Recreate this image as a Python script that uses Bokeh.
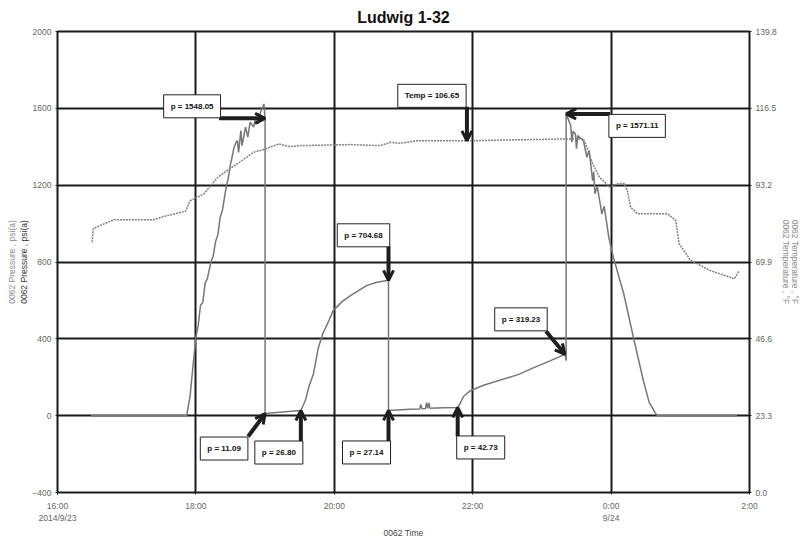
from bokeh.plotting import figure
from bokeh.models import (Range1d, LinearAxis, FixedTicker, Label, Arrow, OpenHead,
                          PrintfTickFormatter)
from bokeh.embed import file_html
from bokeh.resources import INLINE

# ---------------- data ----------------
title_text = "Ludwig 1-32"
x_tick_hours = [0, 2, 4, 6, 8, 10]
x_tick_labels = ["16:00\n2014/9/23", "18:00", "20:00", "22:00", "0:00\n9/24", "2:00"]
p_ticks = [-400, 0, 400, 800, 1200, 1600, 2000]
t_ticks = [0.0, 23.3, 46.6, 69.9, 93.2, 116.5, 139.8]

pressure_time = ["16:29", "17:52", "17:55", "17:57", "18:00", "18:02", "18:04", "18:06", "18:08",
                 "18:10", "18:13", "18:15", "18:17", "18:19", "18:21", "18:23", "18:26", "18:28",
                 "18:30", "18:31", "18:33", "18:35", "18:36", "18:37", "18:39", "18:40", "18:43",
                 "18:45", "18:47", "18:50", "18:52", "18:54", "18:56", "18:59", "19:00",
                 "19:00", "19:10", "19:20", "19:31", "19:35", "19:38", "19:42", "19:46", "19:50",
                 "19:55", "19:59", "20:07", "20:14", "20:28", "20:37", "20:47",
                 "20:47", "20:55", "21:05", "21:14", "21:15", "21:16", "21:19", "21:20", "21:21",
                 "21:22", "21:23", "21:35", "21:47",
                 "21:49", "21:52", "21:58", "22:10", "22:22", "22:40", "22:53", "23:07", "23:20",
                 "23:21", "23:21",
                 "23:25", "23:26", "23:27", "23:29", "23:30", "23:31", "23:36", "23:39", "23:41",
                 "23:44", "23:45", "23:46", "23:48", "23:52", "23:54", "23:58", "0:02", "0:11",
                 "0:20", "0:28", "0:33", "0:35", "0:38", "0:40", "1:49"]
pressure_psi = [0, 0, 104, 230, 408, 470, 575, 590, 690,
                715, 800, 830, 905, 940, 1030, 1070, 1180, 1235,
                1310, 1335, 1395, 1425, 1432, 1371, 1484, 1406, 1502,
                1450, 1528, 1502, 1554, 1519, 1580, 1623, 1548.05,
                11.09, 17, 22, 26.80, 80, 150, 219, 350, 427,
                490, 547, 595, 625, 677, 695, 704.68,
                27.14, 30, 33, 35, 58, 36, 37, 68, 38,
                66, 39, 41, 42.73,
                62, 100, 130, 160, 182, 215, 250, 285, 319.23,
                286, 1571.11,
                1510, 1424, 1480, 1468, 1390, 1458, 1432, 1345, 1380,
                1224, 1270, 1155, 1195, 1050, 1090, 929, 824, 633,
                390, 182, 69, 50, 17, 0, 0]

temp_time = ["16:30", "16:31", "16:37", "16:49", "17:03", "17:23", "17:32", "17:51", "17:55",
             "17:59", "18:07", "18:13", "18:19", "18:27", "18:36", "18:50", "18:59", "19:04",
             "19:12", "19:21", "19:31", "20:14", "20:40", "20:49", "20:57", "21:12", "21:55",
             "22:30", "23:19", "23:36", "23:39", "23:44", "23:50", "23:59", "0:05", "0:11",
             "0:14", "0:17", "0:23", "0:34", "0:49", "0:56", "0:59", "1:09", "1:26", "1:47", "1:51"]
temp_f = [75.9, 80.0, 81.0, 82.7, 82.7, 82.7, 83.7, 85.3, 88.5,
          89.1, 90.6, 93.1, 95.6, 97.6, 99.7, 103.2, 104.0, 104.7,
          105.7, 104.9, 105.2, 105.5, 105.2, 106.2, 105.9, 106.7, 106.65,
          106.9, 107.2, 107.2, 104.7, 99.7, 95.6, 92.6, 93.6, 93.8,
          91.6, 86.5, 84.5, 84.5, 84.5, 82.5, 75.4, 70.4, 67.3, 64.8, 67.3]

# annotated readings (name, time, value, which axis)
ann_name = ["p", "Temp", "p", "p", "p", "p", "p", "p", "p"]
ann_time = ["19:00", "21:55", "23:21", "20:47", "23:20", "19:00", "19:31", "20:47", "21:47"]
ann_value = [1548.05, 106.65, 1571.11, 704.68, 319.23, 11.09, 26.80, 27.14, 42.73]
ann_axis = ["p", "t", "p", "p", "p", "p", "p", "p", "p"]

# ---------------- layout / style (pixels) ----------------
# arrow start offset (dx, dy) and label-centre offset (dx, dy), screen px, y up
arrow_off = [(-46, 0), (0, 34), (44, 0), (0, 34), (-19, 23), (-17, -23), (0, -31), (0, -31), (0, -29)]
label_off = [(-73, 12), (-35, 45), (71, -12), (-25, 45), (-44, 35), (-41, -35), (-22, -42), (-22, -42), (23, -40)]

assert len(pressure_time) == len(pressure_psi)
assert len(temp_time) == len(temp_f)


def to_hours(s):
    hh, mm = map(int, s.split(":"))
    if hh < 12:
        hh += 24
    return (hh - 16) + mm / 60.0


W, H = 809, 541
BL, BR, BT, BB = 57, 60, 31, 49
FW, FH = W - BL - BR, H - BT - BB
X0, X1 = 0, 10
P0, P1 = -400, 2000
T0, T1 = 0, 139.8

FONT = "Liberation Sans"
GRID = "#1a1a1a"

p = figure(width=W, height=H, x_range=Range1d(X0, X1), y_range=Range1d(P0, P1),
           output_backend="svg", toolbar_location=None,
           min_border_left=BL, min_border_right=BR, min_border_top=BT, min_border_bottom=BB,
           title=title_text)
p.extra_y_ranges = {"temp": Range1d(T0, T1)}
p.background_fill_color = "white"
p.border_fill_color = "white"
p.outline_line_color = GRID
p.outline_line_width = 2
p.outline_line_alpha = 1.0

p.title.align = "center"
p.title.text_font = FONT
p.title.text_font_size = "16px"
p.title.text_font_style = "bold"
p.title.text_color = "#111111"
p.title.standoff = 12
p.title.offset = 0

# grids
p.xgrid.ticker = FixedTicker(ticks=x_tick_hours)
p.ygrid.ticker = FixedTicker(ticks=p_ticks)
for g in (p.xgrid, p.ygrid):
    g.grid_line_color = GRID
    g.grid_line_width = 2
    g.grid_line_alpha = 1.0


def style_axis(ax):
    ax.axis_line_color = None
    ax.major_tick_line_color = GRID
    ax.major_tick_out = 2
    ax.major_tick_in = 0
    ax.minor_tick_line_color = None
    ax.major_label_text_font = FONT
    ax.major_label_text_font_size = "8.5px"
    ax.major_label_text_color = "#666666"
    ax.axis_label_text_font = FONT
    ax.axis_label_text_font_size = "8.5px"
    ax.axis_label_text_font_style = "normal"
    ax.axis_label_text_line_height = 0.95


# bottom axis
xa = p.xaxis[0]
style_axis(xa)
xa.ticker = FixedTicker(ticks=x_tick_hours)
xa.major_label_overrides = dict(zip(x_tick_hours, x_tick_labels))
xa.major_label_standoff = 6
xa.axis_label = "0062 Time"
xa.axis_label_standoff = 2
xa.axis_label_text_color = "#444444"

# left axis (black label) + outer gray label
ya = p.yaxis[0]
style_axis(ya)
ya.ticker = FixedTicker(ticks=p_ticks)
ya.major_label_standoff = 4
ya.axis_label = "0062 Pressure , psi(a)"
ya.axis_label_text_color = "#333333"
ya.axis_label_standoff = 0

ya2 = LinearAxis(ticker=FixedTicker(ticks=[]), axis_label="0062 Pressure , psi(a)")
style_axis(ya2)
ya2.major_tick_line_color = None
ya2.major_tick_out = 0
ya2.major_label_standoff = 0
ya2.axis_label_text_color = "#8a8a8a"
ya2.axis_label_standoff = 0
p.add_layout(ya2, "left")

# right axis (temperature)
yr = LinearAxis(y_range_name="temp", ticker=FixedTicker(ticks=t_ticks),
                formatter=PrintfTickFormatter(format="%.1f"),
                axis_label="0062 Temperature , \u00b0F\n0062 Temperature , \u00b0F")
style_axis(yr)
yr.major_label_standoff = 4
yr.axis_label_text_color = "#8a8a8a"
yr.axis_label_standoff = 1
p.add_layout(yr, "right")

# series
px = [to_hours(t) for t in pressure_time]
tx = [to_hours(t) for t in temp_time]
p.line(px, pressure_psi, line_color="#777777", line_width=1.5)
p.line(tx, temp_f, y_range_name="temp", line_color="#808080", line_width=1.5, line_dash="2 1")

# annotations
px_per_x = FW / (X1 - X0)
px_per_p = FH / (P1 - P0)
px_per_t = FH / (T1 - T0)

for name, t, v, axn, (adx, ady), (ldx, ldy) in zip(ann_name, ann_time, ann_value, ann_axis,
                                                    arrow_off, label_off):
    xh = to_hours(t)
    kw = {}
    scale = px_per_p
    if axn == "t":
        kw["y_range_name"] = "temp"
        scale = px_per_t
    arr = Arrow(x_start=xh + adx / px_per_x, y_start=v + ady / scale, x_end=xh, y_end=v,
                line_color="#1e1e1e", line_width=4,
                end=OpenHead(size=10, line_width=3, line_color="#1e1e1e"), **kw)
    p.add_layout(arr)
    lab = Label(x=xh, y=v, x_offset=ldx, y_offset=ldy, text="%s = %.2f" % (name, v),
                text_align="center", text_baseline="middle",
                text_font=FONT, text_font_size="8px", text_font_style="bold", text_color="#111111",
                background_fill_color="white", background_fill_alpha=1.0,
                border_line_color="#222222", border_line_width=1, padding=7, **kw)
    p.add_layout(lab)

html = file_html(p, INLINE, title=title_text)
open("out.html", "w").write(html)
